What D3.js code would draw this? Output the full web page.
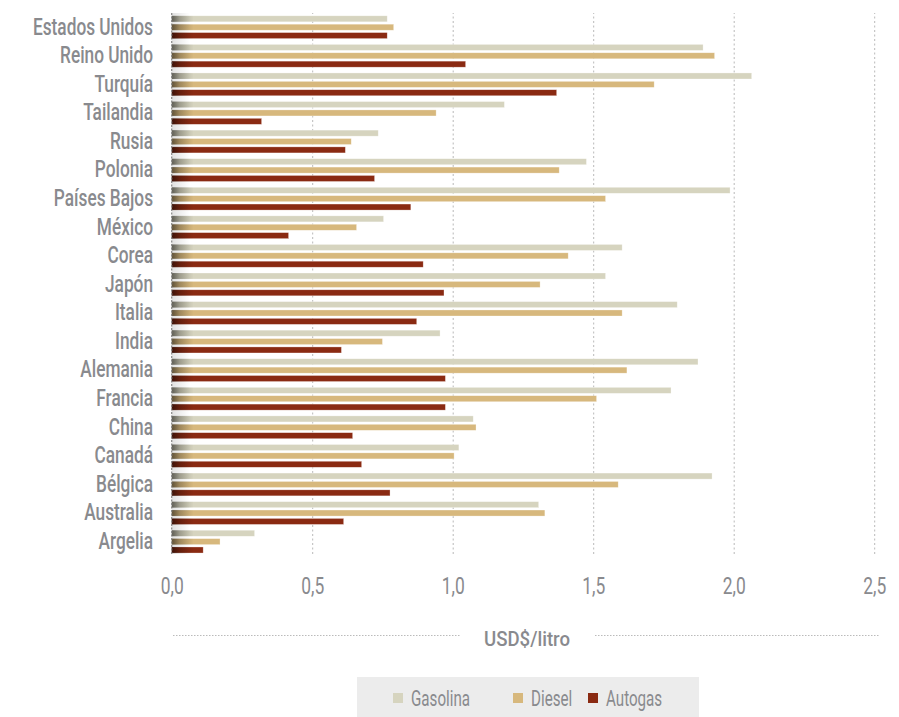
<!DOCTYPE html>
<html>
<head>
<meta charset="utf-8">
<script src="https://cdn.jsdelivr.net/npm/d3@7"></script>
<style>
  html, body { margin: 0; padding: 0; background: #fff; }
  svg { display: block; }
  text { font-family: Roboto, "Liberation Sans", sans-serif; }
</style>
</head>
<body>
<svg id="chart" width="899" height="717"></svg>
<script>
const categories = ["Estados Unidos","Reino Unido","Turquía","Tailandia","Rusia","Polonia","Países Bajos","México","Corea","Japón","Italia","India","Alemania","Francia","China","Canadá","Bélgica","Australia","Argelia"];
const gasolina = [0.767,1.891,2.064,1.184,0.735,1.476,1.987,0.754,1.603,1.544,1.799,0.955,1.873,1.777,1.073,1.022,1.923,1.306,0.295];
const diesel   = [0.790,1.932,1.717,0.941,0.639,1.379,1.544,0.658,1.411,1.311,1.603,0.750,1.620,1.512,1.083,1.005,1.589,1.328,0.172];
const autogas  = [0.767,1.046,1.370,0.320,0.618,0.722,0.851,0.416,0.895,0.969,0.872,0.604,0.974,0.974,0.644,0.676,0.777,0.612,0.112];
const seriesNames = ["Gasolina","Diesel","Autogas"];
const seriesColors = ["#d6d4bf","#d7b87d","#8a2a12"];
const tickValues = [0, 0.5, 1.0, 1.5, 2.0, 2.5];
const axisTitle = "USD$/litro";

const seriesValues = [gasolina, diesel, autogas];
const rows = categories.map((c, i) => ({
  cat: c,
  vals: seriesNames.map((s, j) => ({ series: s, value: seriesValues[j][i], color: seriesColors[j] }))
}));

const svg = d3.select("#chart");
const textGray = "#898a8e";

function condense(sel, refText, refWidth, size, weight) {
  const t = svg.append("text").attr("font-size", size).attr("font-weight", weight).text(refText);
  const k = refWidth / t.node().getComputedTextLength();
  t.remove();
  sel.each(function() {
    const len = this.getComputedTextLength();
    d3.select(this).attr("textLength", len * k).attr("lengthAdjust", "spacingAndGlyphs");
  });
}

const defs = svg.append("defs");
const grad = defs.append("linearGradient").attr("id", "shade").attr("x1", "0%").attr("x2", "100%");
grad.append("stop").attr("offset", "0%").attr("stop-color", "#000").attr("stop-opacity", 0.5);
grad.append("stop").attr("offset", "35%").attr("stop-color", "#000").attr("stop-opacity", 0.22);
grad.append("stop").attr("offset", "100%").attr("stop-color", "#000").attr("stop-opacity", 0);
const grad2 = defs.append("linearGradient").attr("id", "shade2").attr("x1", "0%").attr("x2", "100%");
grad2.append("stop").attr("offset", "0%").attr("stop-color", "#000").attr("stop-opacity", 0.12);
grad2.append("stop").attr("offset", "100%").attr("stop-color", "#000").attr("stop-opacity", 0);

const x = d3.scaleLinear().domain([0, 2.5]).range([171.7, 874.2]);
const plotTop = 13, plotBottom = 554;
const y = d3.scaleBand().domain(categories).range([12, 555]);
const ys = d3.scaleBand().domain(seriesNames).range([3.8, 26.6]).paddingInner(0.28);

const grid = svg.append("g").attr("transform", `translate(0,${plotBottom})`)
  .call(d3.axisBottom(x).tickValues(tickValues.slice(1)).tickSize(-(plotBottom - plotTop)).tickFormat(""));
grid.select(".domain").remove();
grid.selectAll("line").attr("stroke", "#b9b9b9").attr("stroke-width", 1).attr("stroke-dasharray", "2,2.5");

const groups = svg.append("g").selectAll("g").data(rows).join("g")
  .attr("transform", d => `translate(0,${y(d.cat)})`);
groups.selectAll("rect.bar").data(d => d.vals).join("rect")
  .attr("class", "bar")
  .attr("x", x(0))
  .attr("y", d => ys(d.series))
  .attr("width", d => x(d.value) - x(0))
  .attr("height", ys.bandwidth())
  .attr("fill", d => d.color)
  .attr("stroke", "#fff").attr("stroke-opacity", 0.5).attr("stroke-width", 0.6);
groups.selectAll("rect.shade").data(d => d.vals).join("rect")
  .attr("class", "shade")
  .attr("x", x(0))
  .attr("y", d => ys(d.series))
  .attr("width", d => Math.min(22, x(d.value) - x(0)))
  .attr("height", ys.bandwidth())
  .attr("fill", "url(#shade)");

svg.append("rect").attr("x", x(0)).attr("y", plotTop).attr("width", 18).attr("height", plotBottom - plotTop)
  .attr("fill", "url(#shade2)");

svg.append("line").attr("x1", x(0)).attr("x2", x(0)).attr("y1", plotTop).attr("y2", plotBottom)
  .attr("stroke", "#888").attr("stroke-width", 1.2).attr("stroke-dasharray", "2,1.5");

const yAxis = svg.append("g").attr("transform", "translate(153,0)")
  .call(d3.axisLeft(y).tickSize(0).tickPadding(0));
yAxis.select(".domain").remove();
const yTexts = yAxis.selectAll("text")
  .attr("fill", textGray)
  .attr("font-size", "23.5px")
  .attr("font-weight", "500")
  .attr("font-family", "Roboto, sans-serif")
  .attr("dy", "0.35em");
condense(yTexts, "Estados Unidos", 120, "23.5px", "500");

const fmt = d => d3.format(".1f")(d).replace(".", ",");
const xAxis = svg.append("g").attr("transform", "translate(0,578)")
  .call(d3.axisBottom(x).tickValues(tickValues).tickSize(0).tickPadding(0).tickFormat(fmt));
xAxis.select(".domain").remove();
const xTexts = xAxis.selectAll("text").attr("fill", textGray).attr("font-size", "23px")
  .attr("font-family", "Roboto, sans-serif").attr("font-weight", "400");
condense(xTexts, "0,0", 23, "23px", "400");

const title = svg.append("text").attr("x", 527).attr("y", 646).attr("text-anchor", "middle")
  .attr("fill", textGray).attr("font-size", "19.5px").attr("font-weight", "500").text(axisTitle);
condense(title, axisTitle, 86, "19.5px", "500");
svg.append("line").attr("x1", 173).attr("x2", 460).attr("y1", 635.5).attr("y2", 635.5)
  .attr("stroke", "#bbb").attr("stroke-dasharray", "1.5,1.5");
svg.append("line").attr("x1", 595).attr("x2", 880).attr("y1", 635.5).attr("y2", 635.5)
  .attr("stroke", "#bbb").attr("stroke-dasharray", "1.5,1.5");

svg.append("rect").attr("x", 357).attr("y", 677).attr("width", 342).attr("height", 40).attr("fill", "#ececec");
const legendX = [393, 513, 588];
const leg = svg.append("g").selectAll("g").data(seriesNames).join("g")
  .attr("transform", (d, i) => `translate(${legendX[i]},693)`);
leg.append("rect").attr("width", 10).attr("height", 10).attr("fill", (d, i) => seriesColors[i]);
const legTexts = leg.append("text").attr("x", 18).attr("y", 12.5).attr("fill", textGray)
  .attr("font-size", "22.5px").attr("font-weight", "400").text(d => d);
condense(legTexts, "Gasolina", 59, "22.5px", "400");
</script>
</body>
</html>
